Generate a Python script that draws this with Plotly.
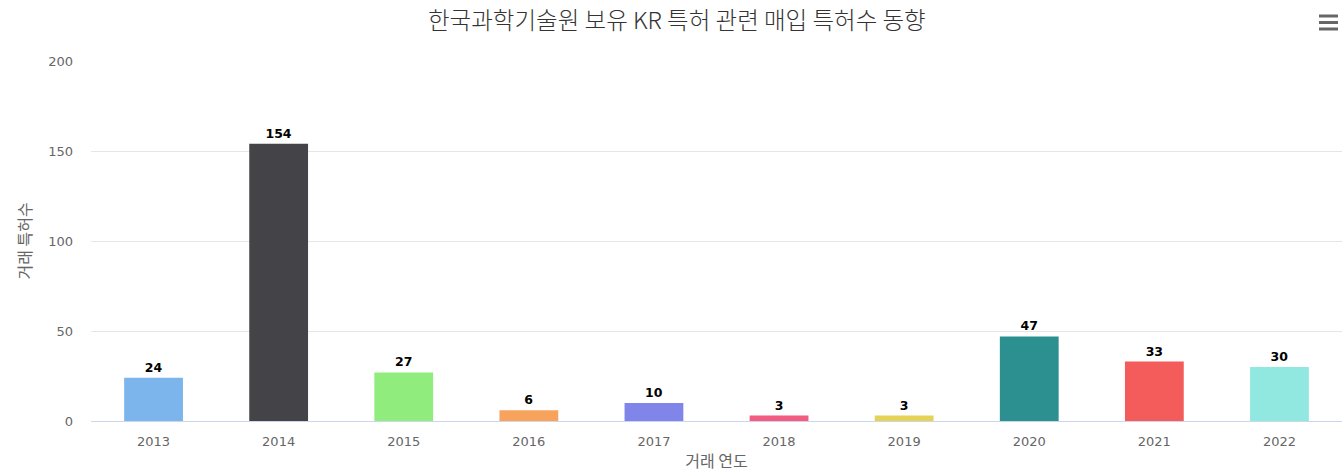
import plotly.graph_objects as go

years = ["2013", "2014", "2015", "2016", "2017", "2018", "2019", "2020", "2021", "2022"]
counts = [24, 154, 27, 6, 10, 3, 3, 47, 33, 30]
colors = ["#7cb5ec", "#434348", "#90ed7d", "#f7a35c", "#8085e9",
          "#f15c80", "#e4d354", "#2b908f", "#f45b5b", "#91e8e1"]
y_ticks = [0, 50, 100, 150, 200]

title_text = "한국과학기술원 보유 KR 특허 관련 매입 특허수 동향"
x_title = "거래 연도"
y_title = "거래 특허수"

FONT = "Noto Sans CJK KR, Noto Sans, sans-serif"
NUMFONT = "DejaVu Sans, Noto Sans, sans-serif"

fig = go.Figure()
fig.add_trace(go.Bar(
    x=years,
    y=counts,
    marker=dict(color=colors, line=dict(width=0)),
    text=counts,
    texttemplate="<b>%{text}</b>",
    textposition="outside",
    constraintext="none",
    cliponaxis=False,
    textfont=dict(family=NUMFONT, size=12.5, color="#000000"),
    showlegend=False,
))

# Hamburger menu icon (Highcharts export button look)
W0, W1 = 91, 1342
H0, H1 = 61, 421
def px(x):
    return (x - W0) / (W1 - W0)
def py(y):
    return (H1 - y) / (H1 - H0)

shapes = []
for yy in (16, 22.5, 29):
    shapes.append(dict(type="line", xref="paper", yref="paper",
                       x0=px(1319), x1=px(1338), y0=py(yy), y1=py(yy),
                       line=dict(color="#666666", width=3)))

annotations = [dict(
    text=title_text, xref="paper", yref="paper",
    x=px(677), y=py(19), xanchor="center", yanchor="middle",
    showarrow=False,
    font=dict(family=FONT, size=23.5, color="#333333", weight=300),
)]

fig.update_layout(
    width=1344, height=472,
    margin=dict(l=91, r=2, t=61, b=51),
    paper_bgcolor="#ffffff",
    plot_bgcolor="#ffffff",
    font=dict(family=FONT, color="#666666"),
    bargap=0.53,
    shapes=shapes,
    annotations=annotations,
    xaxis=dict(
        type="category",
        showgrid=False,
        showline=True, linecolor="#ccd6eb", linewidth=1,
        ticks="", ticklabelstandoff=8,
        tickfont=dict(family=NUMFONT, size=13, color="#666666"),
        title=dict(text=x_title, font=dict(size=16, color="#666666"), standoff=9),
        fixedrange=True,
    ),
    yaxis=dict(
        range=[0, 200],
        tickvals=y_ticks,
        showgrid=True, gridcolor="#e6e6e6", gridwidth=1,
        zeroline=False,
        showline=False,
        ticks="", ticklabelstandoff=17,
        tickfont=dict(family=NUMFONT, size=13, color="#666666"),
        title=dict(text=y_title, font=dict(size=16, color="#666666"), standoff=12),
        fixedrange=True,
    ),
)

fig.write_html("out.html", config={"displayModeBar": False})
